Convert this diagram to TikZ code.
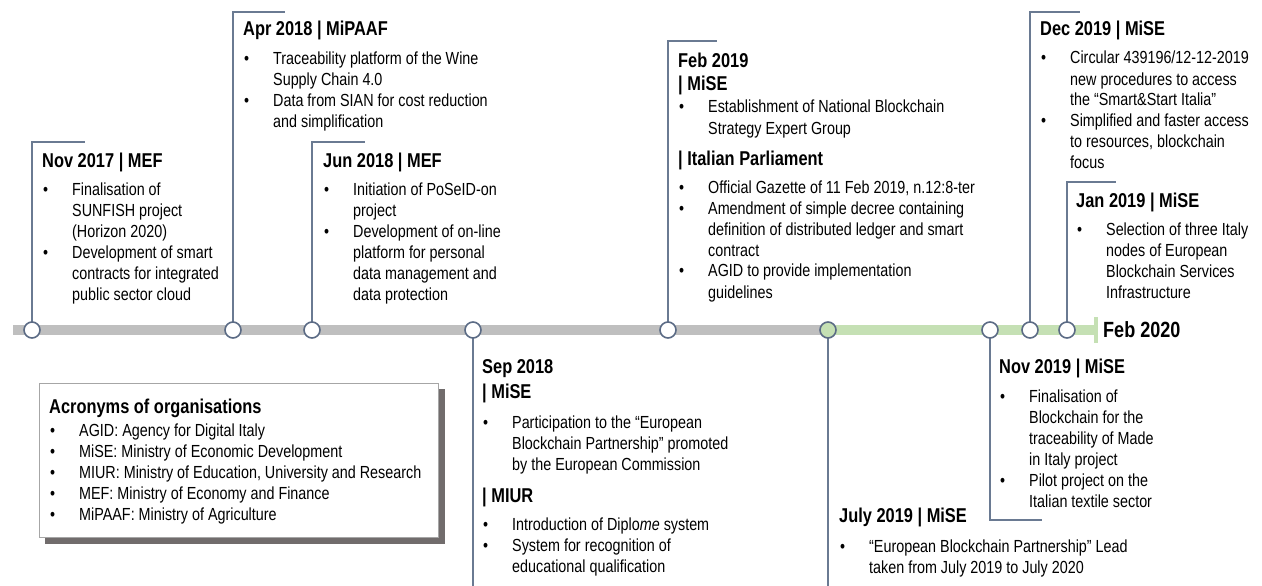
\documentclass[tikz,border=0pt]{standalone}
\usepackage{fontspec}
\setmainfont{Liberation Sans}[FakeStretch=0.82]
\definecolor{lineC}{HTML}{6A7A92}
\definecolor{dotC}{HTML}{5B6B85}
\definecolor{barG}{HTML}{BFBFBF}
\definecolor{barGreen}{HTML}{C5E0B4}
\definecolor{shadowC}{HTML}{716C6C}
\definecolor{boxC}{HTML}{A6A6A6}
\newcommand\bi[1]{\makebox[30pt][l]{\hspace*{1pt}\textbullet}#1}
\newcommand\ci[1]{\hspace*{30pt}#1}
\begin{document}
\begin{tikzpicture}[x=1pt,y=-1pt,
  conn/.style={draw=lineC, line width=1.5pt},
  dot/.style={circle, draw=dotC, line width=1.6pt, fill=white, minimum size=16pt, inner sep=0pt},
  ttl/.style={anchor=base west, inner sep=0pt, font=\fontsize{20}{25}\selectfont\bfseries},
  body/.style={anchor=base west, inner sep=0pt, font=\fontsize{17.5}{21}\selectfont},
]
\useasboundingbox (0,0) rectangle (1262,586);
% timeline bar
\fill[barG] (13,325) rectangle (828,335);
\fill[barGreen] (828,325) rectangle (1096,335);
\draw[barGreen, line width=3.5pt] (1096,317) -- (1096,343);
% corner coordinates
\coordinate (k1) at (85,142);
\coordinate (k2) at (285,12);
\coordinate (k3) at (365,142);
\coordinate (k4) at (473,586);
\coordinate (k5) at (717,41);
\coordinate (k6) at (828,586);
\coordinate (k7) at (1042,520);
\coordinate (k8) at (1080,12);
\coordinate (k9) at (1116,182);
% connectors (drawn before dots)
\path (32,330) coordinate (p1) (233,330) coordinate (p2) (312,330) coordinate (p3)
      (473,330) coordinate (p4) (668,330) coordinate (p5) (828,330) coordinate (p6)
      (990,330) coordinate (p7) (1030,330) coordinate (p8) (1067,330) coordinate (p9);
\draw[conn] (p1) |- (k1);
\draw[conn] (p2) |- (k2);
\draw[conn] (p3) |- (k3);
\draw[conn] (p4) -- (k4);
\draw[conn] (p5) |- (k5);
\draw[conn] (p6) -- (k6);
\draw[conn] (p7) |- (k7);
\draw[conn] (p8) |- (k8);
\draw[conn] (p9) |- (k9);
% dots
\node[dot] (c1) at (p1) {};
\node[dot] (c2) at (p2) {};
\node[dot] (c3) at (p3) {};
\node[dot] (c4) at (p4) {};
\node[dot] (c5) at (p5) {};
\node[dot, fill=barGreen] (c6) at (p6) {};
\node[dot] (c7) at (p7) {};
\node[dot] (c8) at (p8) {};
\node[dot] (c9) at (p9) {};
% end label
\node[anchor=base west, inner sep=0pt, font=\fontsize{22}{26}\selectfont\bfseries] (end) at (1103,337) {Feb 2020};
% Nov 2017
\node[ttl] (t1) at (42,167) {Nov 2017 | MEF};
\node[body] (b1) at (42,195) {\parbox[t]{220pt}{\bi{Finalisation of}\\\ci{SUNFISH project}\\\ci{(Horizon 2020)}\\\bi{Development of smart}\\\ci{contracts for integrated}\\\ci{public sector cloud}}};
% Apr 2018
\node[ttl] (t2) at (243,36) {Apr 2018 | MiPAAF};
\node[body] (b2) at (243,65) {\parbox[t]{300pt}{\bi{Traceability platform of the Wine}\\\ci{Supply Chain 4.0}\\\bi{Data from SIAN for cost reduction}\\\ci{and simplification}}};
% Jun 2018
\node[ttl] (t3) at (323,167) {Jun 2018 | MEF};
\node[body] (b3) at (323,195) {\parbox[t]{220pt}{\bi{Initiation of PoSeID-on}\\\ci{project}\\\bi{Development of on-line}\\\ci{platform for personal}\\\ci{data management and}\\\ci{data protection}}};
% Feb 2019
\node[ttl] (t5a) at (678,67) {Feb 2019};
\node[ttl] (t5b) at (678,91) {| MiSE};
\node[body] (b5a) at (678,113) {\parbox[t]{320pt}{\bi{Establishment of National Blockchain}\\\ci{Strategy Expert Group}}};
\node[ttl] (t5c) at (678,165) {| Italian Parliament};
\node[body] (b5b) at (678,193) {\parbox[t]{320pt}{\bi{Official Gazette of 11 Feb 2019, n.12:8-ter}\\\bi{Amendment of simple decree containing}\\\ci{definition of distributed ledger and smart}\\\ci{contract}\\\bi{AGID to provide implementation}\\\ci{guidelines}}};
% Dec 2019
\node[ttl] (t8) at (1040,36) {Dec 2019 | MiSE};
\node[body] (b8) at (1040,64) {\parbox[t]{220pt}{\bi{Circular 439196/12-12-2019}\\\ci{new procedures to access}\\\ci{the “Smart\&Start Italia”}\\\bi{Simplified and faster access}\\\ci{to resources, blockchain}\\\ci{focus}}};
% Jan 2019
\node[ttl] (t9) at (1076,207) {Jan 2019 | MiSE};
\node[body] (b9) at (1076,235) {\parbox[t]{200pt}{\bi{Selection of three Italy}\\\ci{nodes of European}\\\ci{Blockchain Services}\\\ci{Infrastructure}}};
% Sep 2018
\node[ttl] (t4a) at (482,373) {Sep 2018};
\node[ttl] (t4b) at (482,398) {| MiSE};
\node[body] (b4a) at (482,428) {\parbox[t]{320pt}{\bi{Participation to the “European}\\\ci{Blockchain Partnership” promoted}\\\ci{by the European Commission}}};
\node[ttl] (t4c) at (482,502) {| MIUR};
\node[body] (b4b) at (482,530) {\parbox[t]{320pt}{\bi{Introduction of Diplo\textit{me} system}\\\bi{System for recognition of}\\\ci{educational qualification}}};
% July 2019
\node[ttl] (t6) at (839,522) {July 2019 | MiSE};
\node[body] (b6) at (839,552) {\parbox[t]{320pt}{\bi{“European Blockchain Partnership” Lead}\\\ci{taken from July 2019 to July 2020}}};
% Nov 2019
\node[ttl] (t7) at (999,373) {Nov 2019 | MiSE};
\node[body] (b7) at (999,402) {\parbox[t]{220pt}{\bi{Finalisation of}\\\ci{Blockchain for the}\\\ci{traceability of Made}\\\ci{in Italy project}\\\bi{Pilot project on the}\\\ci{Italian textile sector}}};
% Acronyms box
\fill[shadowC] (45,389) rectangle (445,544);
\draw[boxC, fill=white, line width=1pt] (39,383) rectangle (438,537);
\node[ttl] (ta) at (49,413) {Acronyms of organisations};
\node[body] (ba) at (49,436) {\parbox[t]{390pt}{\bi{AGID: Agency for Digital Italy}\\\bi{MiSE: Ministry of Economic Development}\\\bi{MIUR: Ministry of Education, University and Research}\\\bi{MEF: Ministry of Economy and Finance}\\\bi{MiPAAF: Ministry of Agriculture}}};
\end{tikzpicture}
\end{document}
